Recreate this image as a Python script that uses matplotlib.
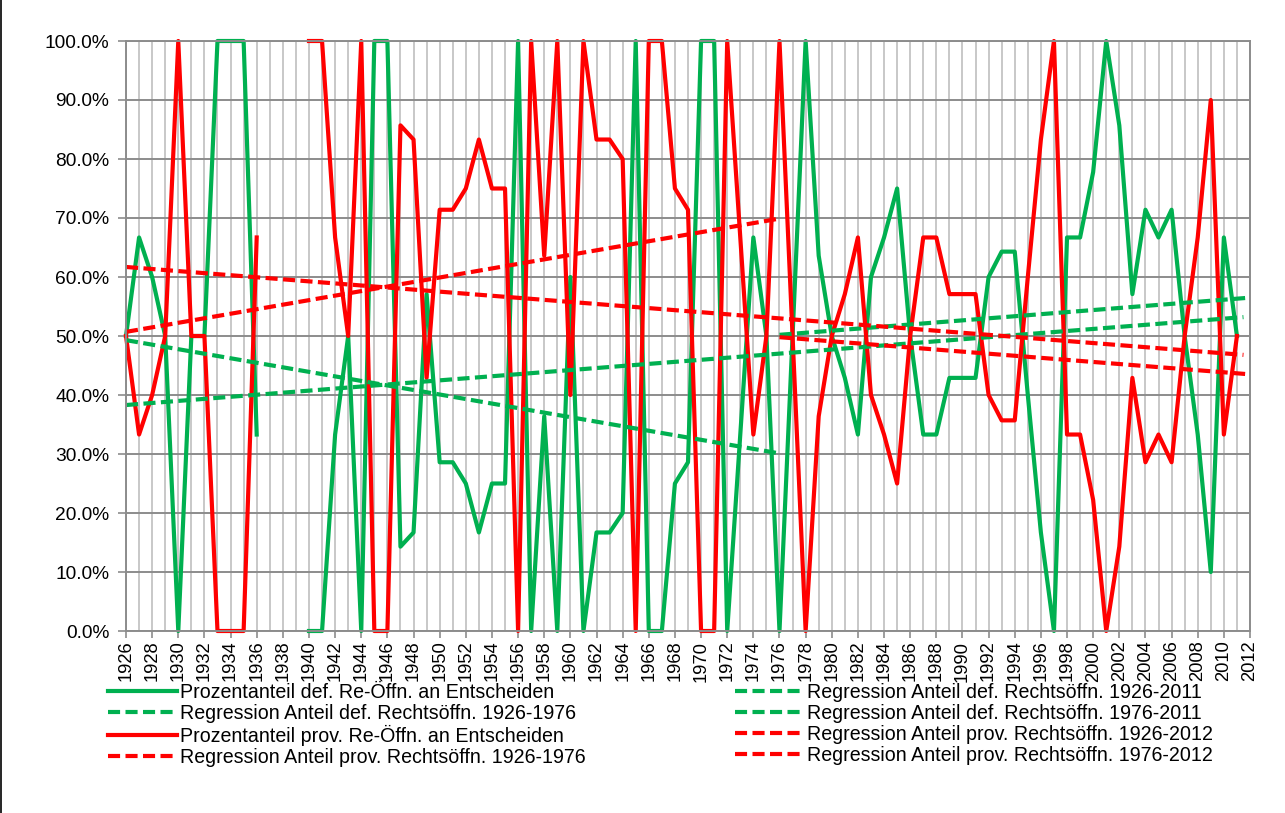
import matplotlib.pyplot as plt
import numpy as np
from matplotlib.ticker import MultipleLocator, FuncFormatter
from matplotlib.lines import Line2D

plt.rcParams['font.family'] = ['Liberation Sans', 'DejaVu Sans']

# yearly shares (percent), 1926-2011, gap 1937-1939
years = np.arange(1926, 2012)
def_share = [50, 66.7, 60, 50, 0, 50, 50, 100, 100, 100, 33.3,
             np.nan, np.nan, np.nan,
             0, 0, 33.3, 50, 0, 100, 100, 14.3, 16.7, 57.1,
             28.6, 28.6, 25, 16.7, 25, 25, 100, 0, 36.4, 0,
             60, 0, 16.7, 16.7, 20, 100, 0, 0, 25, 28.6,
             100, 100, 0, 33.3, 66.7, 50, 0, 50, 100, 63.6,
             50, 42.9, 33.3, 60, 66.7, 75, 50, 33.3, 33.3, 42.9,
             42.9, 42.9, 60, 64.3, 64.3, 40, 16.7, 0, 66.7, 66.7,
             77.8, 100, 85.7, 57.1, 71.4, 66.7, 71.4, 50, 33.3, 10,
             66.7, 50]
prov_share = [50, 33.3, 40, 50, 100, 50, 50, 0, 0, 0, 66.7,
              np.nan, np.nan, np.nan,
              100, 100, 66.7, 50, 100, 0, 0, 85.7, 83.3, 42.9,
              71.4, 71.4, 75, 83.3, 75, 75, 0, 100, 63.6, 100,
              40, 100, 83.3, 83.3, 80, 0, 100, 100, 75, 71.4,
              0, 0, 100, 66.7, 33.3, 50, 100, 50, 0, 36.4,
              50, 57.1, 66.7, 40, 33.3, 25, 50, 66.7, 66.7, 57.1,
              57.1, 57.1, 40, 35.7, 35.7, 60, 83.3, 100, 33.3, 33.3,
              22.2, 0, 14.3, 42.9, 28.6, 33.3, 28.6, 50, 66.7, 90,
              33.3, 50]

# trend lines: (start year, end year), (start value, end value)
reg_def_all_x, reg_def_all_y = [1926, 2011.5], [38.3, 53.2]
reg_def_early_x, reg_def_early_y = [1926, 1976], [49.3, 30.1]
reg_def_late_x, reg_def_late_y = [1976, 2012], [50.2, 56.5]
reg_prov_all_x, reg_prov_all_y = [1926, 2011.5], [61.7, 46.8]
reg_prov_early_x, reg_prov_early_y = [1926, 1976], [50.7, 69.9]
reg_prov_late_x, reg_prov_late_y = [1976, 2012], [49.8, 43.5]

labels_left = ["Prozentanteil def. Re-Öffn. an Entscheiden",
               "Regression Anteil def. Rechtsöffn. 1926-1976",
               "Prozentanteil prov. Re-Öffn. an Entscheiden",
               "Regression Anteil prov. Rechtsöffn. 1926-1976"]
labels_right = ["Regression Anteil def. Rechtsöffn. 1926-2011",
                "Regression Anteil def. Rechtsöffn. 1976-2011",
                "Regression Anteil prov. Rechtsöffn. 1926-2012",
                "Regression Anteil prov. Rechtsöffn. 1976-2012"]

green = '#00B050'
red = '#FF0000'
lw = 3.0
dash = (2.9, 1.3)

fig = plt.figure(figsize=(12.85, 8.13), dpi=100)
ax = fig.add_axes([126/1285, 1-631/813, (1250-126)/1285, (631-41)/813])

l_def, = ax.plot(years, def_share, color=green, lw=lw, clip_on=False, solid_joinstyle='round')
l_prov, = ax.plot(years, prov_share, color=red, lw=lw, clip_on=False, solid_joinstyle='round')

r1, = ax.plot(reg_def_all_x, reg_def_all_y, color=green, lw=lw, dashes=dash)
r2, = ax.plot(reg_def_early_x, reg_def_early_y, color=green, lw=lw, dashes=dash)
r3, = ax.plot(reg_def_late_x, reg_def_late_y, color=green, lw=lw, dashes=dash)
r4, = ax.plot(reg_prov_all_x, reg_prov_all_y, color=red, lw=lw, dashes=dash)
r5, = ax.plot(reg_prov_early_x, reg_prov_early_y, color=red, lw=lw, dashes=dash)
r6, = ax.plot(reg_prov_late_x, reg_prov_late_y, color=red, lw=lw, dashes=dash)

ax.set_xlim(1926, 2012)
ax.set_ylim(0, 100)
ax.xaxis.set_major_locator(MultipleLocator(2))
ax.xaxis.set_minor_locator(MultipleLocator(1))
ax.yaxis.set_major_locator(MultipleLocator(10))
ax.yaxis.set_major_formatter(FuncFormatter(lambda v, p: f"{v:.1f}%"))
ax.xaxis.set_major_formatter(FuncFormatter(lambda v, p: f"{int(round(v))}"))

ax.grid(axis='x', which='both', color='#BFBFBF', lw=1.2)
ax.grid(axis='y', which='major', color='#8C8C8C', lw=1.4)
ax.set_axisbelow(True)
for s in ax.spines.values():
    s.set_color('#8C8C8C')
    s.set_linewidth(1.4)

ax.tick_params(axis='x', which='major', direction='out', length=5, width=1.2,
               color='#8C8C8C', labelsize=13.2, rotation=90, pad=2)
ax.tick_params(axis='x', which='minor', length=0)
ax.tick_params(axis='y', direction='out', length=6, width=1.2,
               color='#8C8C8C', labelsize=13.8, pad=6)

leg_kw = dict(loc='upper left', frameon=False, borderpad=0, borderaxespad=0,
              handlelength=3.5, handletextpad=0.2, labelspacing=0.1,
              fontsize=14.1)
fig.legend([l_def, r2, l_prov, r5], labels_left,
           bbox_to_anchor=(108/1285, 1-683/813), **leg_kw)
fig.legend([r1, r3, r4, r6], labels_right,
           bbox_to_anchor=(735/1285, 1-683/813), **leg_kw)

fig.add_artist(Line2D([0.001, 0.001], [0, 1], color='black', lw=1.2))

fig.savefig('out.png', dpi=100)
